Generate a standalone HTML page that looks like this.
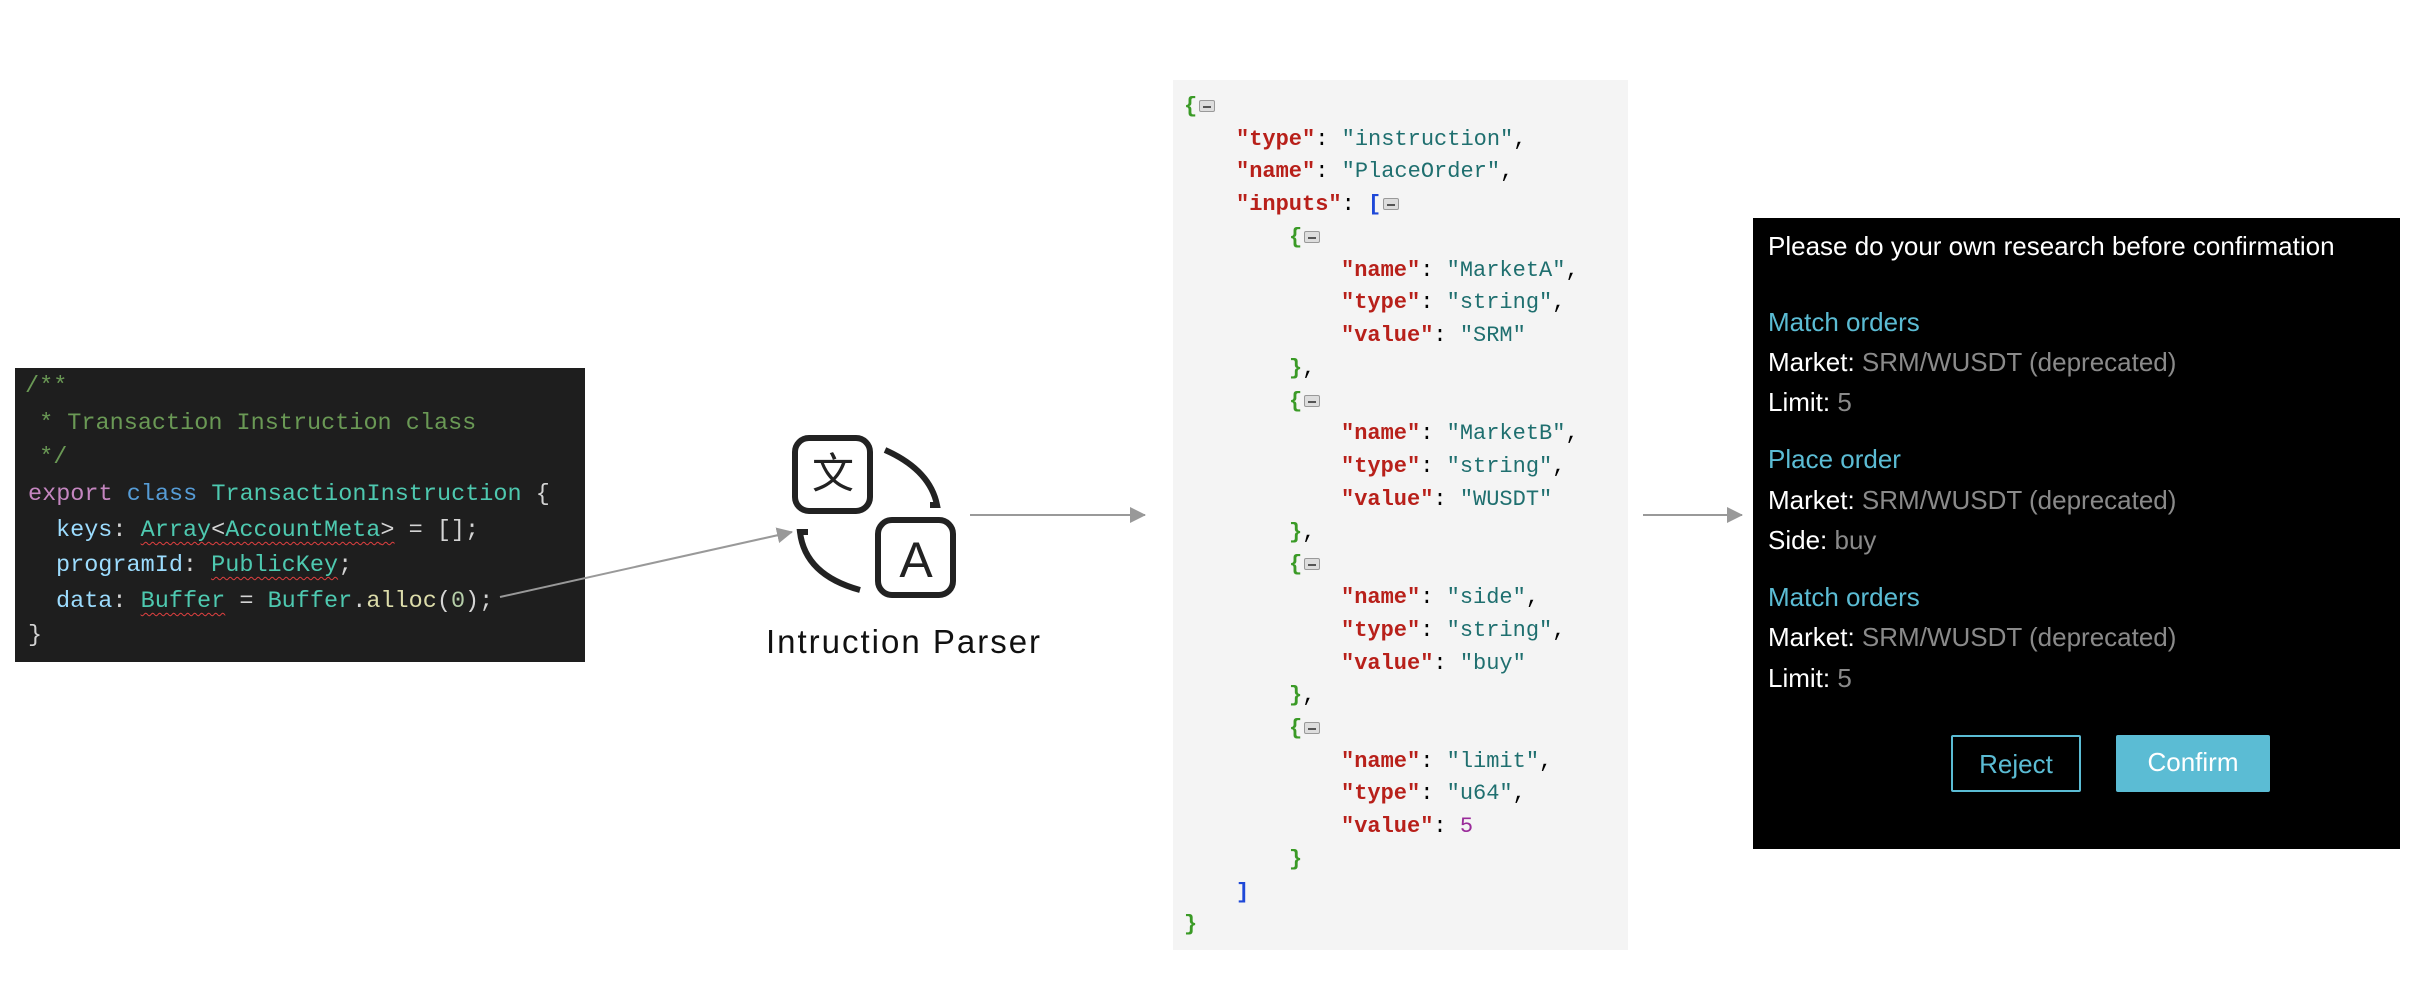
<!DOCTYPE html>
<html><head><meta charset="utf-8"><style>
*{margin:0;padding:0;box-sizing:border-box}
body{width:2426px;height:992px;background:#fff;position:relative;overflow:hidden;font-family:"Liberation Sans",sans-serif}
.code{position:absolute;left:15px;top:368px;width:570px;height:294px;background:#1e1e1e;font-family:"Liberation Mono",monospace;font-size:23.5px;color:#d4d4d4}
.code div{position:absolute;white-space:pre;line-height:36px}
.c{color:#6a9955}.k{color:#c586c0}.b{color:#569cd6}.t{color:#4ec9b0}.v{color:#9cdcfe}.f{color:#dcdcaa}.n{color:#b5cea8}
.sq{text-decoration:underline wavy #e04040;text-decoration-thickness:1px;text-underline-offset:5px}
.json{position:absolute;left:1173px;top:80px;width:455px;height:870px;background:#f4f4f4;font-family:"Liberation Mono",monospace;font-size:22px}
.json div{position:absolute;white-space:pre;line-height:32px;height:32px}
.key{color:#b8201a;font-weight:bold}.s{color:#1f6f6f}.g{color:#3a9a26;font-weight:bold}.bl{color:#1e48d8;font-weight:bold}.p{color:#9a2a9a}
.ic{display:inline-block;width:16px;height:12px;border:1px solid #999;background:#ddd;border-radius:2px;vertical-align:middle;position:relative;margin-left:2px}
.ic:after{content:"";position:absolute;left:3px;right:3px;top:5px;height:2px;background:#555}
.panel{position:absolute;left:1753px;top:218px;width:647px;height:631px;background:#000;color:#fff;font-size:26px}
.panel div{position:absolute;left:15px;white-space:nowrap;line-height:30px}
.h{color:#5bbcd4}.gr{color:#8a8a8a}
.btn{position:absolute;height:57px;line-height:55px;text-align:center;font-size:26px;border-radius:2px}
</style></head><body>
<div class="code">
<div class="c" style="left:10px;top:1px">/**</div>
<div class="c" style="left:10px;top:38px"> * Transaction Instruction class</div>
<div class="c" style="left:10px;top:72px"> */</div>
<div style="left:13px;top:109px"><span class="k">export</span> <span class="b">class</span> <span class="t">TransactionInstruction</span> {</div>
<div style="left:41px;top:145px"><span class="v">keys</span>: <span class="t sq">Array</span><span class="sq">&lt;</span><span class="t sq">AccountMeta</span><span class="sq">&gt;</span> = [];</div>
<div style="left:41px;top:180px"><span class="v">programId</span>: <span class="t sq">PublicKey</span>;</div>
<div style="left:41px;top:216px"><span class="v">data</span>: <span class="t sq">Buffer</span> = <span class="t">Buffer</span>.<span class="f">alloc</span>(<span class="n">0</span>);</div>
<div style="left:13px;top:250px">}</div>
</div>

<svg style="position:absolute;left:0;top:0" width="2426" height="992">
<defs><marker id="ah2" markerWidth="16" markerHeight="16" refX="15" refY="8" orient="auto" markerUnits="userSpaceOnUse"><path d="M0,0 L16,8 L0,16 z" fill="#999"/></marker></defs>
<line x1="500" y1="597" x2="792" y2="532" stroke="#999" stroke-width="2" marker-end="url(#ah2)"/>
<line x1="970" y1="515" x2="1145" y2="515" stroke="#999" stroke-width="2" marker-end="url(#ah2)"/>
<line x1="1643" y1="515" x2="1742" y2="515" stroke="#999" stroke-width="2" marker-end="url(#ah2)"/>
<rect x="795" y="438" width="75" height="73" rx="14" fill="none" stroke="#222" stroke-width="6"/>
<rect x="878" y="520" width="75" height="75" rx="14" fill="none" stroke="#222" stroke-width="6"/>
<path d="M885,450 Q930,470 937,505 L930,505" fill="none" stroke="#222" stroke-width="6"/>
<path d="M808,532 L800,532 Q805,575 860,590" fill="none" stroke="#222" stroke-width="6"/>
<text x="833" y="488" font-family="Noto Sans CJK SC,sans-serif" font-size="42" text-anchor="middle" fill="#222">文</text>
<text x="916" y="577" font-family="Liberation Sans,sans-serif" font-size="50" text-anchor="middle" fill="#222">A</text>
<text x="904" y="653" font-family="Liberation Sans,sans-serif" font-size="33" letter-spacing="2" text-anchor="middle" fill="#111">Intruction Parser</text>
</svg>

<div class="json">
<div style="left:11px;top:11px"><span class="g">{</span><span class="ic"></span></div>
<div style="left:63px;top:44px"><span class="key">"type"</span>: <span class="s">"instruction"</span>,</div>
<div style="left:63px;top:76px"><span class="key">"name"</span>: <span class="s">"PlaceOrder"</span>,</div>
<div style="left:63px;top:109px"><span class="key">"inputs"</span>: <span class="bl">[</span><span class="ic"></span></div>
<div style="left:116px;top:142px"><span class="g">{</span><span class="ic"></span></div>
<div style="left:168px;top:175px"><span class="key">"name"</span>: <span class="s">"MarketA"</span>,</div>
<div style="left:168px;top:207px"><span class="key">"type"</span>: <span class="s">"string"</span>,</div>
<div style="left:168px;top:240px"><span class="key">"value"</span>: <span class="s">"SRM"</span></div>
<div style="left:116px;top:273px"><span class="g">}</span>,</div>
<div style="left:116px;top:306px"><span class="g">{</span><span class="ic"></span></div>
<div style="left:168px;top:338px"><span class="key">"name"</span>: <span class="s">"MarketB"</span>,</div>
<div style="left:168px;top:371px"><span class="key">"type"</span>: <span class="s">"string"</span>,</div>
<div style="left:168px;top:404px"><span class="key">"value"</span>: <span class="s">"WUSDT"</span></div>
<div style="left:116px;top:437px"><span class="g">}</span>,</div>
<div style="left:116px;top:469px"><span class="g">{</span><span class="ic"></span></div>
<div style="left:168px;top:502px"><span class="key">"name"</span>: <span class="s">"side"</span>,</div>
<div style="left:168px;top:535px"><span class="key">"type"</span>: <span class="s">"string"</span>,</div>
<div style="left:168px;top:568px"><span class="key">"value"</span>: <span class="s">"buy"</span></div>
<div style="left:116px;top:600px"><span class="g">}</span>,</div>
<div style="left:116px;top:633px"><span class="g">{</span><span class="ic"></span></div>
<div style="left:168px;top:666px"><span class="key">"name"</span>: <span class="s">"limit"</span>,</div>
<div style="left:168px;top:698px"><span class="key">"type"</span>: <span class="s">"u64"</span>,</div>
<div style="left:168px;top:731px"><span class="key">"value"</span>: <span class="p">5</span></div>
<div style="left:116px;top:764px"><span class="g">}</span></div>
<div style="left:63px;top:797px"><span class="bl">]</span></div>
<div style="left:11px;top:829px"><span class="g">}</span></div>
</div>

<div class="panel">
<div style="top:13px">Please do your own research before confirmation</div>
<div class="h" style="top:89px">Match orders</div>
<div style="top:129px">Market: <span class="gr">SRM/WUSDT (deprecated)</span></div>
<div style="top:169px">Limit: <span class="gr">5</span></div>
<div class="h" style="top:226px">Place order</div>
<div style="top:267px">Market: <span class="gr">SRM/WUSDT (deprecated)</span></div>
<div style="top:307px">Side: <span class="gr">buy</span></div>
<div class="h" style="top:364px">Match orders</div>
<div style="top:404px">Market: <span class="gr">SRM/WUSDT (deprecated)</span></div>
<div style="top:445px">Limit: <span class="gr">5</span></div>
<span class="btn" style="left:198px;top:517px;width:130px;border:2px solid #5bbcd4;color:#5bbcd4">Reject</span>
<span class="btn" style="left:363px;top:517px;width:154px;background:#5bbcd4;color:#fff">Confirm</span>
</div>
</body></html>
